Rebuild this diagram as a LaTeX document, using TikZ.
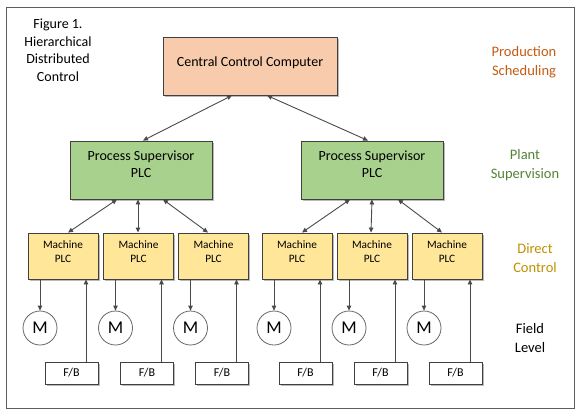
\documentclass[tikz,border=0pt]{standalone}
\usepackage{fontspec}
\setmainfont{Carlito}
\usetikzlibrary{arrows.meta,shadows,calc}
\definecolor{peach}{HTML}{F8CBAD}
\definecolor{leaf}{HTML}{A9D18E}
\definecolor{sand}{HTML}{FFE699}
\definecolor{edge}{HTML}{404040}
\definecolor{wire}{HTML}{4A4A4A}
\definecolor{orangelab}{HTML}{C55A11}
\definecolor{greenlab}{HTML}{548235}
\definecolor{goldlab}{HTML}{BF9000}
\tikzset{
  shade/.style={drop shadow={shadow xshift=1.8pt,shadow yshift=-1.8pt,fill=black!45,opacity=0.6}},
  boxbase/.style={draw=edge,line width=0.9pt,shade,align=center,inner sep=1pt},
  cccbox/.style={boxbase,fill=peach,minimum width=174pt,minimum height=58pt,font=\fontsize{14}{16}\selectfont},
  psbox/.style={boxbase,fill=leaf,minimum width=142pt,minimum height=58pt,font=\fontsize{14}{17}\selectfont},
  mbox/.style={boxbase,fill=sand,minimum width=70pt,minimum height=46pt,font=\fontsize{11.3}{14}\selectfont},
  fbbox/.style={draw=edge,line width=0.9pt,fill=white,shade,minimum width=53pt,minimum height=22pt,inner sep=1pt,font=\fontsize{12}{12}\selectfont},
  motor/.style={circle,draw=edge!80,line width=0.8pt,fill=white,minimum size=34pt,inner sep=0pt,font=\fontsize{18}{18}\selectfont},
  sidelab/.style={align=center,font=\fontsize{14.5}{19}\selectfont},
  wireto/.style={draw=wire,line width=0.9pt,-{Triangle[length=5pt,width=4.5pt]}},
  wireboth/.style={draw=wire,line width=0.9pt,{Triangle[length=5pt,width=4.5pt]}-{Triangle[length=5pt,width=4.5pt]}}
}
\begin{document}
\begin{tikzpicture}[x=1pt,y=-1pt]
\useasboundingbox (0,0) rectangle (580,416);
\draw[edge!85,line width=0.8pt] (6,7) rectangle (574,408);
% title
\node[sidelab,font=\fontsize{14}{17.5}\selectfont] (title) at (58,50) {Figure 1.\\Hierarchical\\Distributed\\Control};
% side labels
\node[sidelab,text=orangelab] (l1) at (524,62) {Production\\Scheduling};
\node[sidelab,text=greenlab] (l2) at (525,165) {Plant\\Supervision};
\node[sidelab,text=goldlab] (l3) at (535,258) {Direct\\Control};
\node[sidelab] (l4) at (530,338) {Field\\Level};
% boxes
\node[cccbox,text depth=8pt] (ccc) at (250,66) {Central Control Computer};
\node[psbox,text depth=12pt] (ps1) at (141,170) {Process Supervisor\\PLC};
\node[psbox,text depth=12pt] (ps2) at (372,170) {Process Supervisor\\PLC};
\foreach \i/\x in {1/63,2/138.5,3/213.5,4/297,5/372,6/447}{
  \node[mbox,text depth=9pt] (m\i) at (\x,256) {Machine\\PLC};
  \node[motor] (mo\i) at (\x-23,328) {M};
  \node[fbbox] (fb\i) at (\x+8.5,373) {F/B};
  \draw[wireto] (m\i.south -| mo\i) -- (mo\i.north);
  \draw[wireto] ([xshift=14.5pt]fb\i.north) -- ([xshift=23pt]m\i.south);
}
% links
\draw[wireboth] ([xshift=-18pt]ccc.south) -- ([xshift=2pt]ps1.north);
\draw[wireboth] ([xshift=17pt]ccc.south) -- ([xshift=-4pt]ps2.north);
\draw[wireboth] ([xshift=-24pt]ps1.south) -- ([xshift=5pt]m1.north);
\draw[wireboth] ([xshift=-3pt]ps1.south) -- ([xshift=-0.5pt]m2.north);
\draw[wireboth] ([xshift=22pt]ps1.south) -- ([xshift=-5.5pt]m3.north);
\draw[wireboth] ([xshift=-22pt]ps2.south) -- ([xshift=5pt]m4.north);
\draw[wireboth] ([xshift=0pt]ps2.south) -- ([xshift=-1pt]m5.north);
\draw[wireboth] ([xshift=26pt]ps2.south) -- ([xshift=-5pt]m6.north);
\end{tikzpicture}
\end{document}
